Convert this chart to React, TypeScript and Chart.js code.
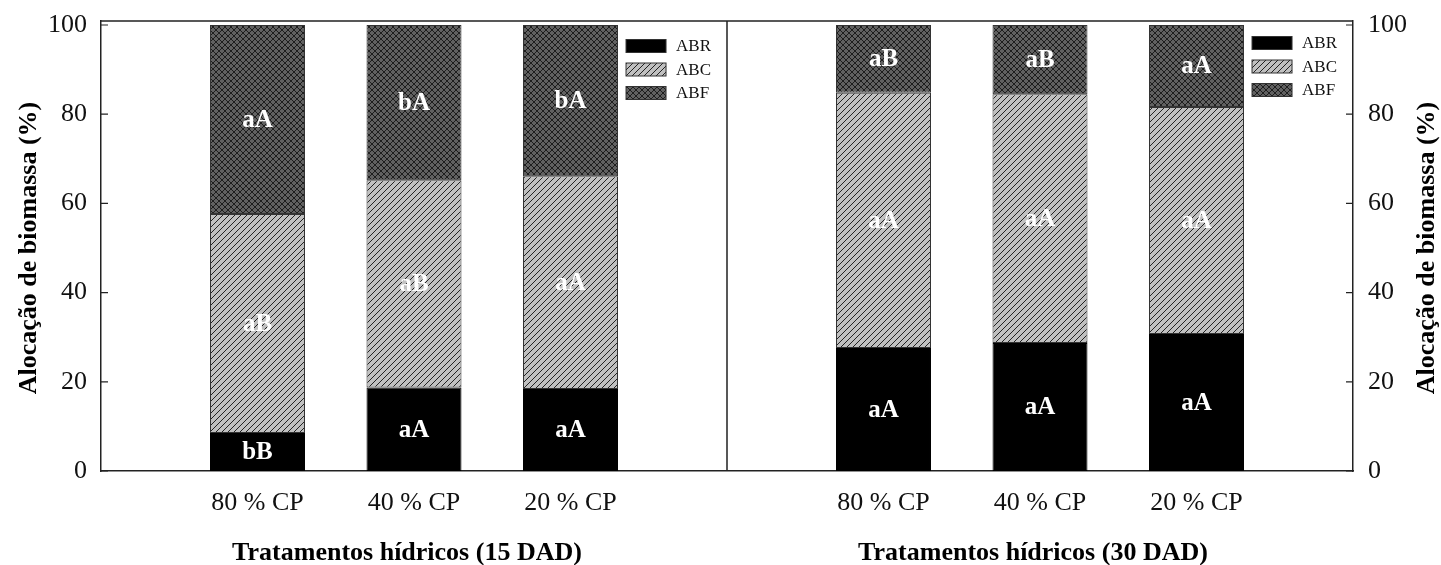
import React, { useEffect, useRef } from 'react';
import { Chart, registerables } from 'chart.js';

Chart.register(...registerables);

// ---------- data ----------
const categories = ['80 % CP', '40 % CP', '20 % CP'];
const periodTitles = ['Tratamentos hídricos (15 DAD)', 'Tratamentos hídricos (30 DAD)'];
const seriesNames = ['ABR', 'ABC', 'ABF'];

const abr15 = [8.5, 18.7, 18.4];
const abc15 = [49.1, 46.5, 47.7];
const abf15 = [42.4, 34.8, 33.9];

const abr30 = [27.6, 28.7, 30.7];
const abc30 = [57.2, 55.8, 50.9];
const abf30 = [15.2, 15.5, 18.4];

const lettersABR15 = ['bB', 'aA', 'aA'];
const lettersABC15 = ['aB', 'aB', 'aA'];
const lettersABF15 = ['aA', 'bA', 'bA'];
const lettersABR30 = ['aA', 'aA', 'aA'];
const lettersABC30 = ['aA', 'aA', 'aA'];
const lettersABF30 = ['aB', 'aB', 'aA'];

const yTickValues = [0, 20, 40, 60, 80, 100];
const yAxisTitle = 'Alocação de biomassa (%)';

const SERIF = "'Liberation Serif', 'Times New Roman', serif";

// one empty slot before each panel's categories and one at the end
const xLabels = ['', ...categories, '', ...categories, ''];
const join = <T,>(a: T[], b: T[]): (T | null)[] => [null, ...a, null, ...b, null];

function makeHatch(kind: 'diag' | 'cross'): CanvasPattern | string {
  const c = document.createElement('canvas');
  const s = 6;
  c.width = s;
  c.height = s;
  const g = c.getContext('2d');
  if (!g) return '#999';
  g.fillStyle = kind === 'diag' ? '#c0c0c0' : '#616161';
  g.fillRect(0, 0, s, s);
  g.strokeStyle = kind === 'diag' ? '#222' : '#1e1e1e';
  g.lineWidth = 1;
  const drawSlash = () => {
    g.beginPath();
    g.moveTo(-1, s + 1);
    g.lineTo(s + 1, -1);
    g.moveTo(-1, 1);
    g.lineTo(1, -1);
    g.moveTo(s - 1, s + 1);
    g.lineTo(s + 1, s - 1);
    g.stroke();
  };
  const drawBack = () => {
    g.beginPath();
    g.moveTo(-1, -1);
    g.lineTo(s + 1, s + 1);
    g.moveTo(s - 1, -1);
    g.lineTo(s + 1, 1);
    g.moveTo(-1, s - 1);
    g.lineTo(1, s + 1);
    g.stroke();
  };
  drawSlash();
  if (kind === 'cross') drawBack();
  const p = g.createPattern(c, 'repeat');
  return p || '#999';
}

export default function App() {
  const ref = useRef<HTMLCanvasElement | null>(null);

  useEffect(() => {
    if (!ref.current) return;
    Chart.defaults.font.family = SERIF;
    Chart.defaults.color = '#111';

    const fills = ['#000000', makeHatch('diag'), makeHatch('cross')];
    const values = [join(abr15, abr30), join(abc15, abc30), join(abf15, abf30)];
    const letters = [
      join(lettersABR15, lettersABR30),
      join(lettersABC15, lettersABC30),
      join(lettersABF15, lettersABF30),
    ];

    const decor = {
      id: 'decor',
      afterDatasetsDraw(chart: any) {
        const { ctx, chartArea } = chart;
        const xs = chart.scales.x;
        const ys = chart.scales.y;
        const { left, right, top, bottom } = chartArea;
        ctx.save();
        ctx.strokeStyle = '#222';
        ctx.lineWidth = 1.5;
        // frame top + panel divider
        ctx.beginPath();
        ctx.moveTo(left, top);
        ctx.lineTo(right, top);
        const mid = xs.getPixelForValue(4);
        ctx.moveTo(mid, top);
        ctx.lineTo(mid, bottom);
        ctx.stroke();
        // inward ticks
        ctx.lineWidth = 1.2;
        ctx.beginPath();
        yTickValues.forEach((v) => {
          const y = ys.getPixelForValue(v);
          ctx.moveTo(left, y);
          ctx.lineTo(left + 7, y);
          ctx.moveTo(right - 7, y);
          ctx.lineTo(right, y);
        });
        ctx.stroke();

        // bar letters
        ctx.fillStyle = '#ffffff';
        ctx.font = `bold 25px ${SERIF}`;
        ctx.textAlign = 'center';
        ctx.textBaseline = 'middle';
        letters.forEach((arr, di) => {
          const meta = chart.getDatasetMeta(di);
          meta.data.forEach((el: any, i: number) => {
            const t = arr[i];
            if (!t) return;
            ctx.fillText(t, el.x, (el.y + el.base) / 2 + 1);
          });
        });

        // legends and x titles per panel
        const legendTop = [25, 22];
        for (let p = 0; p < 2; p++) {
          const pl = xs.getPixelForValue(p * 4);
          const pr = xs.getPixelForValue(p * 4 + 4);
          const bx = pl + 0.8387 * (pr - pl);
          seriesNames.forEach((name, k) => {
            const cy = top + legendTop[p] + k * 23.5;
            ctx.fillStyle = fills[k] as any;
            ctx.fillRect(bx, cy - 6.5, 40, 13);
            ctx.strokeStyle = '#333';
            ctx.lineWidth = 1;
            ctx.strokeRect(bx, cy - 6.5, 40, 13);
            ctx.fillStyle = '#111';
            ctx.font = `17px ${SERIF}`;
            ctx.textAlign = 'left';
            ctx.textBaseline = 'middle';
            ctx.fillText(name, bx + 50, cy + 1);
          });
          ctx.fillStyle = '#000';
          ctx.font = `bold 26px ${SERIF}`;
          ctx.textAlign = 'center';
          ctx.textBaseline = 'alphabetic';
          ctx.fillText(periodTitles[p], (pl + pr) / 2 - 7, 560);
        }

        // y titles (both rotated)
        const cyMid = (top + bottom) / 2 + 2;
        ctx.font = `bold 26px ${SERIF}`;
        ctx.textAlign = 'center';
        ctx.textBaseline = 'middle';
        [29, 1427].forEach((x) => {
          ctx.save();
          ctx.translate(x, cyMid);
          ctx.rotate(-Math.PI / 2);
          ctx.fillText(yAxisTitle, 0, 0);
          ctx.restore();
        });
        ctx.restore();
      },
    };

    const yCommon = {
      stacked: true,
      min: 0,
      max: 100.9,
      grid: { display: false, drawTicks: false },
      border: { display: true, color: '#222', width: 1.5 },
      afterBuildTicks: (scale: any) => {
        scale.ticks = yTickValues.map((v) => ({ value: v }));
      },
    };

    const chart = new Chart(ref.current, {
      type: 'bar',
      data: {
        labels: xLabels,
        datasets: seriesNames.map((name, k) => ({
          label: name,
          data: values[k] as any,
          backgroundColor: fills[k] as any,
          borderColor: k === 0 ? '#000' : '#333',
          borderWidth: 1,
          borderSkipped: false,
          barPercentage: 1,
          categoryPercentage: 0.607,
        })),
      },
      options: {
        responsive: false,
        animation: false,
        layout: { padding: { top: 21, left: 0, right: 0, bottom: 0 } },
        plugins: { legend: { display: false }, tooltip: { enabled: false } },
        scales: {
          x: {
            stacked: true,
            offset: false,
            grid: { display: false, drawTicks: false },
            border: { display: true, color: '#222', width: 1.5 },
            ticks: {
              autoSkip: false,
              maxRotation: 0,
              minRotation: 0,
              padding: 17,
              color: '#111',
              font: { size: 26, family: SERIF },
            },
            afterFit: (scale: any) => {
              scale.height = 94;
              scale.paddingLeft = 0;
              scale.paddingRight = 0;
            },
          },
          y: {
            ...yCommon,
            position: 'left',
            ticks: { padding: 14, color: '#111', font: { size: 26, family: SERIF } },
            afterFit: (scale: any) => {
              scale.width = 101;
              scale.paddingTop = 0;
              scale.paddingBottom = 0;
            },
          },
          y2: {
            ...yCommon,
            position: 'right',
            ticks: { padding: 15, color: '#111', font: { size: 26, family: SERIF } },
            afterFit: (scale: any) => {
              scale.width = 88;
              scale.paddingTop = 0;
              scale.paddingBottom = 0;
            },
          },
        },
      } as any,
      plugins: [decor],
    });
    return () => chart.destroy();
  }, []);

  return (
    <div style={{ position: 'absolute', left: 0, top: 0, width: 1441, height: 565, background: '#fff' }}>
      <canvas ref={ref} width={1441} height={565} style={{ display: 'block' }} />
    </div>
  );
}
